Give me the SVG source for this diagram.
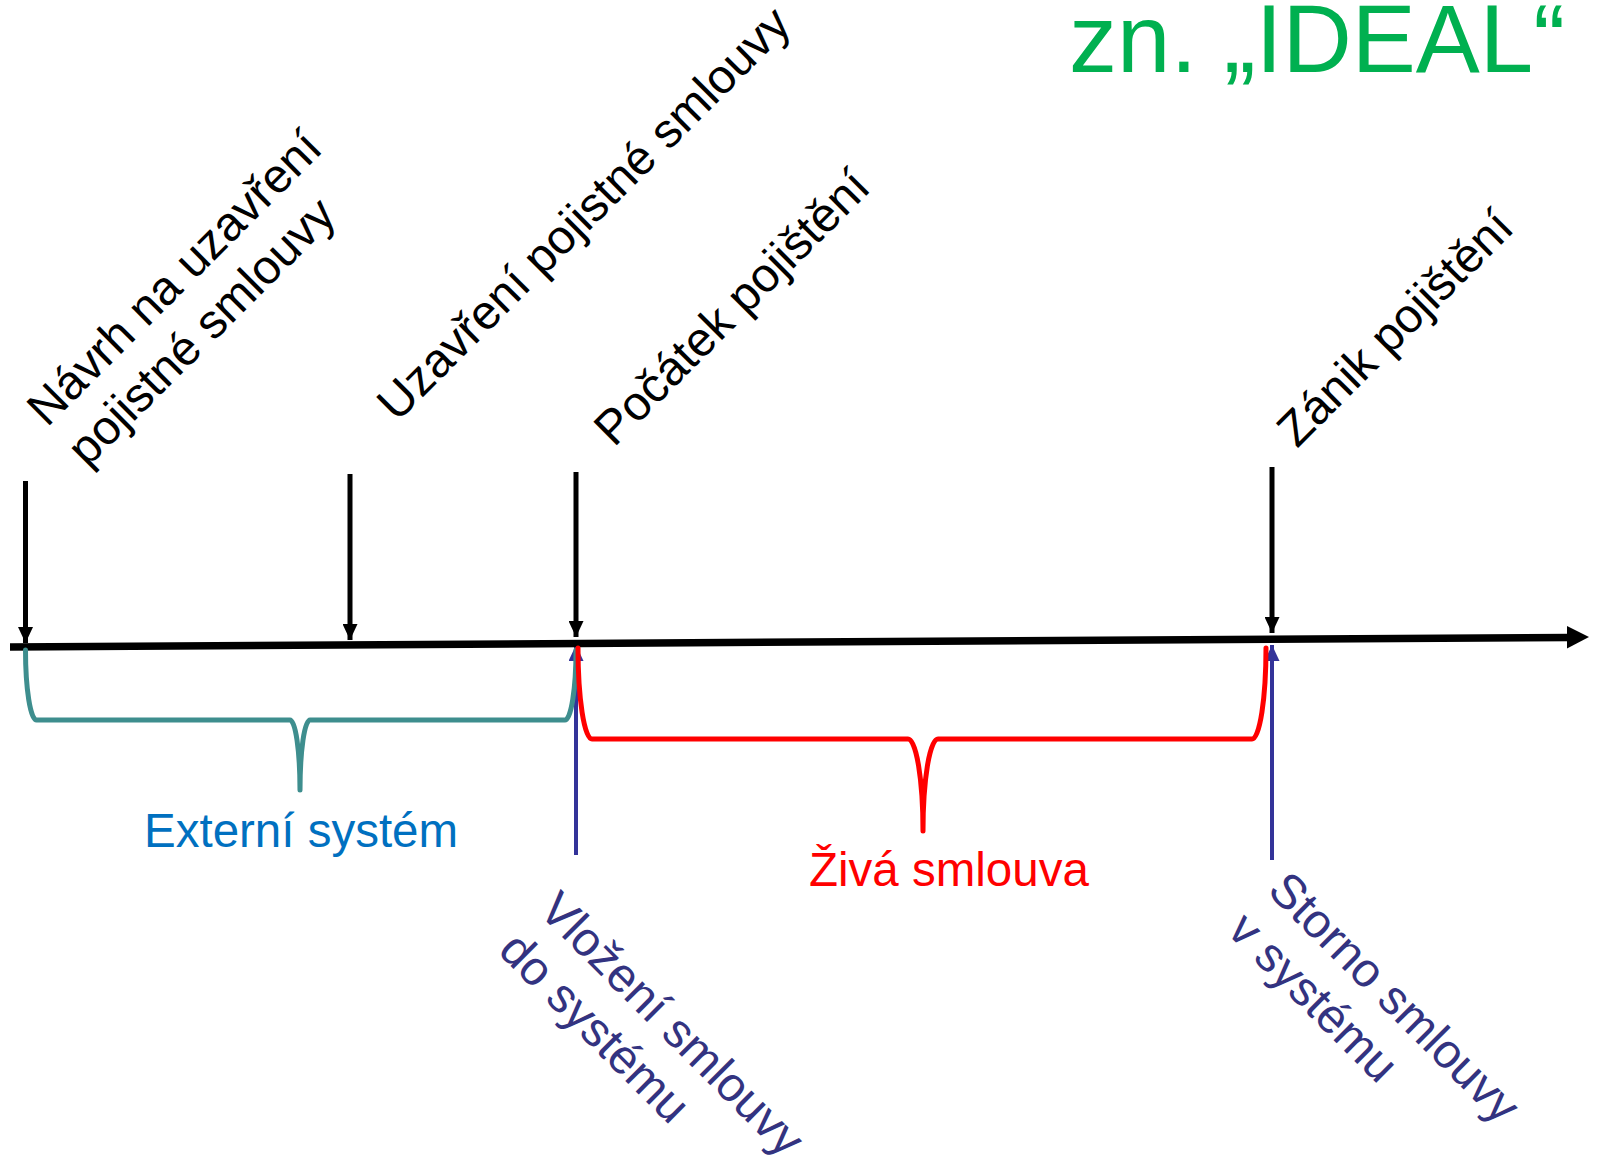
<svg xmlns="http://www.w3.org/2000/svg" width="1599" height="1159" viewBox="0 0 1599 1159">
<defs>
<style>
.lbl{font-family:"Liberation Sans",Arial,sans-serif;font-size:48px;fill:#000}
.blu{font-family:"Liberation Sans",Arial,sans-serif;font-size:48px;fill:#333380}
.ev{stroke:#000;stroke-width:5;fill:none}
.sys{stroke:#333399;stroke-width:4;fill:none}
.brace{fill:none;stroke-width:5;stroke-linecap:round;stroke-linejoin:round}
</style>
<marker id="blk" viewBox="0 0 16 15" refX="16" refY="7.5" markerWidth="16" markerHeight="15" markerUnits="userSpaceOnUse" orient="auto">
<path d="M0,0 L16,7.5 L0,15 Z" fill="#000"/>
</marker>
<marker id="blu" viewBox="0 0 16 15" refX="16" refY="7.5" markerWidth="16" markerHeight="15" markerUnits="userSpaceOnUse" orient="auto">
<path d="M0,0 L16,7.5 L0,15 Z" fill="#333399"/>
</marker>
</defs>
<rect width="1599" height="1159" fill="#fff"/>

<g id="title">
<text x="1069" y="72" style="font-family:'Liberation Sans',Arial,sans-serif;font-size:96px;fill:#00B050">zn. „IDEAL“</text>
</g>

<g id="connectors">
<line class="sys" x1="576" y1="855" x2="576" y2="645" marker-end="url(#blu)"/>
<line class="sys" x1="1272" y1="860" x2="1272" y2="645" marker-end="url(#blu)"/>
<line x1="10" y1="647" x2="1570" y2="637.4" stroke="#000" stroke-width="7.5"/>
<path d="M1567,626 L1589,637 L1567,648.5 Z" fill="#000"/>
<line class="ev" x1="25.5" y1="481" x2="25.5" y2="643" marker-end="url(#blk)"/>
<line class="ev" x1="350" y1="474" x2="350" y2="640" marker-end="url(#blk)"/>
<line class="ev" x1="576" y1="472" x2="576" y2="637" marker-end="url(#blk)"/>
<line class="ev" x1="1272" y1="467" x2="1272" y2="633" marker-end="url(#blk)"/>
<path class="brace" stroke="#3E8E8E" d="M25.5,650 A11,70 0 0 0 36.5,720 L290,720 A10,70 0 0 1 300,790 A10,70 0 0 1 310,720 L565,720 A11,70 0 0 0 576,650"/>
<path class="brace" stroke="#FF0000" d="M578,648 A14,91 0 0 0 592,739 L908,739 A15,92 0 0 1 923,831 A15,92 0 0 1 938,739 L1252,739 A14,91 0 0 0 1266,648"/>
</g>

<g id="navrh">
<text class="lbl" transform="translate(47,428) rotate(-45)"><tspan x="0" y="0">Návrh na uzavření</tspan><tspan x="0" y="57">pojistné smlouvy</tspan></text>
</g>
<g id="uzavreni">
<text class="lbl" transform="translate(397,423) rotate(-45)">Uzavření pojistné smlouvy</text>
</g>
<g id="pocatek">
<text class="lbl" transform="translate(614,448) rotate(-45)">Počátek pojištění</text>
</g>
<g id="zanik">
<text class="lbl" transform="translate(1297,449) rotate(-45)">Zánik pojištění</text>
</g>
<g id="externi">
<text x="144" y="847" style="font-family:'Liberation Sans',Arial,sans-serif;font-size:47.5px;fill:#0070C0">Externí systém</text>
</g>
<g id="ziva">
<text x="809" y="886" style="font-family:'Liberation Sans',Arial,sans-serif;font-size:47.5px;fill:#FF0000">Živá smlouva</text>
</g>
<g id="vlozeni">
<text class="blu" transform="translate(537,912) rotate(45)"><tspan x="0" y="0">Vložení smlouvy</tspan><tspan x="0" y="57">do systému</tspan></text>
</g>
<g id="storno">
<text class="blu" transform="translate(1266,892) rotate(45)"><tspan x="0" y="0">Storno smlouvy</tspan><tspan x="0" y="57">v systému</tspan></text>
</g>
</svg>
